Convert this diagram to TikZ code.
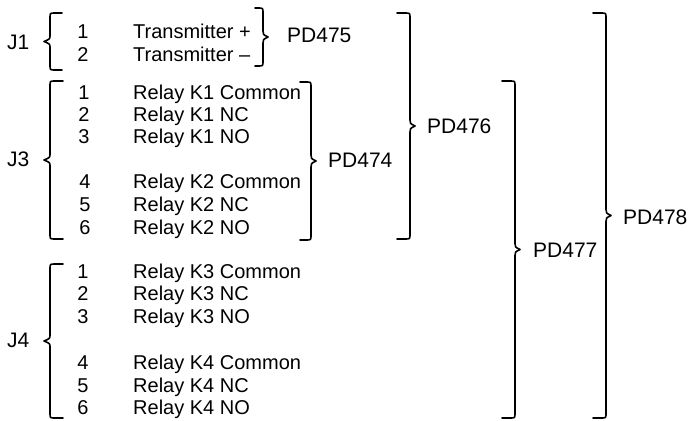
\documentclass[tikz,border=0pt]{standalone}
\usepackage{fontspec}
\setmainfont{Liberation Sans}
\newcommand{\mybraceL}[5]{% xv, xt, xh, yt, yb
  \draw[bracestyle] (#3,#4) -- ({#1+5},#4) .. controls (#1,#4) .. (#1,{#4+5})
    -- (#1,{(#4+#5)/2-6}) .. controls (#1,{(#4+#5)/2-2.5}) .. (#2,{(#4+#5)/2})
    .. controls (#1,{(#4+#5)/2+2.5}) .. (#1,{(#4+#5)/2+6})
    -- (#1,{#5-5}) .. controls (#1,#5) .. ({#1+5},#5) -- (#3,#5);}
\newcommand{\mybraceR}[5]{% xv, xt, xh, yt, yb
  \draw[bracestyle] (#3,#4) -- ({#1-5},#4) .. controls (#1,#4) .. (#1,{#4+5})
    -- (#1,{(#4+#5)/2-6}) .. controls (#1,{(#4+#5)/2-2.5}) .. (#2,{(#4+#5)/2})
    .. controls (#1,{(#4+#5)/2+2.5}) .. (#1,{(#4+#5)/2+6})
    -- (#1,{#5-5}) .. controls (#1,#5) .. ({#1-5},#5) -- (#3,#5);}
\begin{document}
\begin{tikzpicture}[x=1pt,y=-1pt,
  bracestyle/.style={line width=1.6pt,black,line cap=round,line join=round},
  rowtxt/.style={anchor=base west,inner sep=0pt,font=\fontsize{20}{24}\selectfont},
  pin/.style={anchor=base,inner sep=0pt,font=\fontsize{20}{24}\selectfont},
  grp/.style={anchor=base west,inner sep=0pt,font=\fontsize{21}{25}\selectfont}]
\useasboundingbox (0,0) rectangle (695,420);
% connector labels
\node[grp] (J1) at (7,49) {J1};
\node[grp] (J3) at (7,166) {J3};
\node[grp] (J4) at (7,347) {J4};
% J1 rows
\node[pin] (j1n1) at (83,39) {1};
\node[rowtxt] (j1t1) at (133,39) {Transmitter +};
\node[pin] (j1n2) at (83,61) {2};
\node[rowtxt] (j1t2) at (133,61) {Transmitter –};
% J3 rows
\node[pin] (j3n1) at (84,99) {1};
\node[rowtxt] (j3t1) at (133,99) {Relay K1 Common};
\node[pin] (j3n2) at (84,121) {2};
\node[rowtxt] (j3t2) at (133,121) {Relay K1 NC};
\node[pin] (j3n3) at (84,143) {3};
\node[rowtxt] (j3t3) at (133,143) {Relay K1 NO};
\node[pin] (j3n4) at (85,188) {4};
\node[rowtxt] (j3t4) at (133,188) {Relay K2 Common};
\node[pin] (j3n5) at (85,211) {5};
\node[rowtxt] (j3t5) at (133,211) {Relay K2 NC};
\node[pin] (j3n6) at (85,234) {6};
\node[rowtxt] (j3t6) at (133,234) {Relay K2 NO};
% J4 rows
\node[pin] (j4n1) at (83,278) {1};
\node[rowtxt] (j4t1) at (133,278) {Relay K3 Common};
\node[pin] (j4n2) at (83,300) {2};
\node[rowtxt] (j4t2) at (133,300) {Relay K3 NC};
\node[pin] (j4n3) at (83,323) {3};
\node[rowtxt] (j4t3) at (133,323) {Relay K3 NO};
\node[pin] (j4n4) at (83,369) {4};
\node[rowtxt] (j4t4) at (133,369) {Relay K4 Common};
\node[pin] (j4n5) at (83,392) {5};
\node[rowtxt] (j4t5) at (133,392) {Relay K4 NC};
\node[pin] (j4n6) at (83,414) {6};
\node[rowtxt] (j4t6) at (133,414) {Relay K4 NO};
% part labels
\node[grp] (pd475) at (287,42) {PD475};
\node[grp] (pd474) at (328,167) {PD474};
\node[grp] (pd476) at (427,133) {PD476};
\node[grp] (pd477) at (533,257) {PD477};
\node[grp] (pd478) at (623,224) {PD478};
% left braces
\mybraceL{50}{44}{62}{13}{70}
\mybraceL{50}{44}{63}{81}{239}
\mybraceL{50}{44}{63}{264}{418}
% right braces
\mybraceR{263}{268}{255}{8}{66}
\mybraceR{311}{316}{300}{82}{240}
\mybraceR{410}{415}{397}{13}{239}
\mybraceR{515}{520}{502}{81}{418}
\mybraceR{606}{611}{593}{13}{418}
\end{tikzpicture}
\end{document}
